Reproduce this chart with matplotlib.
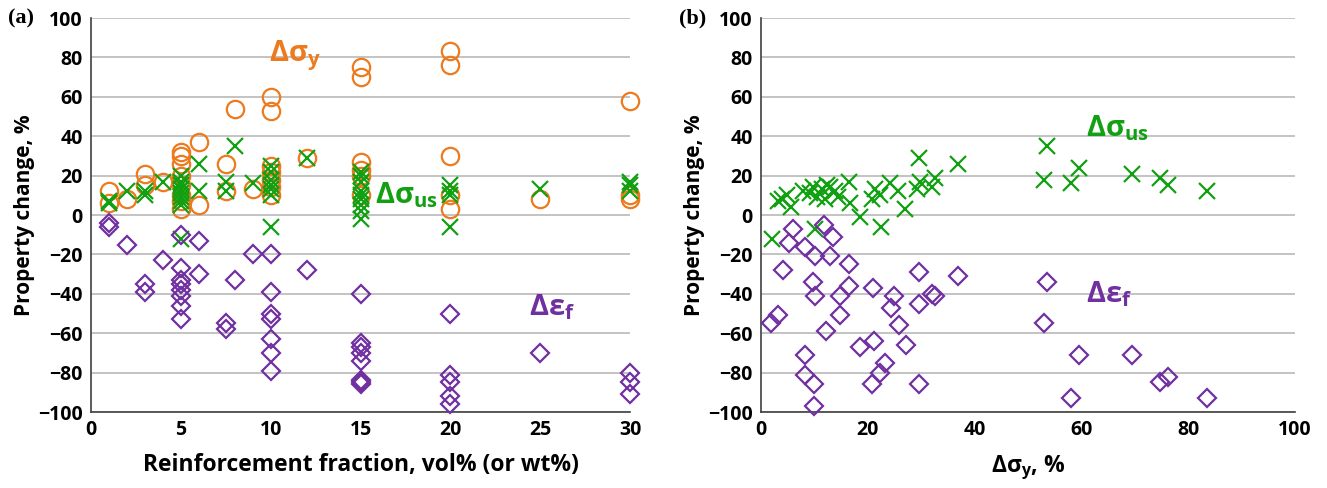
import numpy as np
import matplotlib
matplotlib.use('Agg')
import matplotlib.pyplot as plt

plt.rcParams['font.family'] = ['Open Sans', 'DejaVu Sans']
plt.rcParams['mathtext.fontset'] = 'custom'
plt.rcParams['mathtext.rm'] = 'Open Sans'
plt.rcParams['mathtext.bf'] = 'Open Sans:bold'
plt.rcParams['mathtext.it'] = 'Open Sans:italic'

ORANGE = '#EE7A1E'
GREEN = '#11A011'
PURPLE = '#7030A0'

# ---------------- panel (a) data: reinforcement fraction vs change
ys_frac = [1, 1, 2, 3, 3, 4, 5, 5, 5, 5, 5, 5, 5, 5, 6, 6, 7.5, 7.5, 8, 9,
           10, 10, 10, 10, 10, 10, 10, 12, 15, 15, 15, 15, 15, 15,
           20, 20, 20, 20, 20, 25, 30, 30, 30]
ys_val = [12, 6, 8, 21, 15, 17, 32, 30, 26, 20, 15, 10, 7, 3, 37, 5, 26, 12, 54, 13,
          60, 53, 25, 22, 18, 14, 10, 29, 75, 70, 27, 23, 20, 10,
          83, 76, 30, 10, 3, 8, 58, 10, 8]

us_frac = [1, 1, 2, 3, 3, 4, 5, 5, 5, 5, 5, 5, 5, 5, 5, 6, 6, 7.5, 7.5, 8, 9,
           10, 10, 10, 10, 10, 10, 10, 12, 15, 15, 15, 15, 15, 15, 15, 15, 15,
           20, 20, 20, 20, 25, 30, 30, 30]
us_val = [7, 6, 12, 12, 10, 17, 20, 17, 15, 13, 11, 9, 7, 5, -12, 26, 12, 17, 12, 35, 16,
          25, 22, 18, 15, 13, 10, -6, 29, 22, 20, 17, 12, 10, 8, 5, 2, -2,
          15, 12, 10, -6, 13, 17, 15, 12]

ef_frac = [1, 1, 2, 3, 3, 4, 5, 5, 5, 5, 5, 5, 5, 5, 6, 6, 7.5, 7.5, 8, 9,
           10, 10, 10, 10, 10, 10, 10, 12, 15, 15, 15, 15, 15, 15, 15, 15,
           20, 20, 20, 20, 20, 25, 30, 30, 30]
ef_val = [-4, -6, -15, -35, -39, -23, -10, -27, -33, -35, -38, -41, -46, -53, -13, -30, -55, -58, -33, -20,
          -20, -39, -50, -53, -63, -70, -79, -28, -40, -65, -67, -70, -74, -84, -85, -86,
          -50, -81, -85, -92, -96, -70, -80, -85, -91]

# ---------------- panel (b) data: change in yield strength vs change
b_us_x = [2, 3.2, 4, 4.8, 5.7, 7.9, 9.2, 9.8, 10.4, 11.4, 12, 12.3, 12.9, 13.9, 14.5,
          16.5, 16.7, 18.5, 20.7, 21.3, 22.3, 22.4, 24.2, 25.7, 27, 29.2, 29.8, 29.5,
          32, 32.6, 36.8, 10.1, 53.5, 52.9, 58, 59.6, 69.5, 74.7, 76.3, 83.5]
b_us_y = [-12, 7, 8, 10, 4, 12, 11, 14, 9, 13, 8, 15, 14, 12, 9,
          17, 6, -1, 8, 13, 10, -6, 16, 12, 3, 13, 17, 29,
          14, 19, 26, -7, 35, 18, 16, 24, 21, 19, 15, 12]

b_ef_x = [6.0, 5.3, 4.2, 1.8, 3.2, 8.2, 10.1, 9.8, 10.1, 11.8, 13.5, 12.9, 12.2, 8.2, 8.2,
          10, 10, 16.5, 16.5, 14.7, 14.7, 21, 24.9, 24.3, 25.8, 29.5, 29.5, 32, 32.6,
          36.8, 18.5, 21.2, 27.2, 23.2, 22.3, 20.7, 29.5,
          53.5, 52.9, 59.6, 58, 69.5, 74.7, 76.3, 83.5]
b_ef_y = [-7, -14, -28, -55, -51, -16, -21, -34, -41, -5, -11, -21, -59, -71, -81,
          -86, -97, -25, -36, -41, -51, -37, -41, -47, -56, -29, -45, -40, -41,
          -31, -67, -64, -66, -75, -80, -86, -86,
          -34, -55, -71, -93, -71, -85, -82, -93]

fig = plt.figure(figsize=(13.27, 4.88), dpi=100)
ax1 = fig.add_axes([0.0686, 0.1557, 0.4062, 0.8074])
ax2 = fig.add_axes([0.5735, 0.1557, 0.4024, 0.8074])

mk = dict(linestyle='none', clip_on=False, zorder=3)


def style_axis(ax):
    ax.set_ylim(-100, 100)
    ax.set_yticks(np.arange(-100, 101, 20))
    ax.grid(axis='y', color='#BEBEBE', linewidth=1.3)
    ax.set_axisbelow(True)
    for s in ['top', 'right']:
        ax.spines[s].set_visible(False)
    for s in ['left', 'bottom']:
        ax.spines[s].set_color('#404040')
        ax.spines[s].set_linewidth(1.2)
    ax.tick_params(length=0, pad=6, labelsize=14)
    for lab in ax.get_xticklabels() + ax.get_yticklabels():
        lab.set_fontweight('bold')
    ax.set_ylabel('Property change, %', fontsize=15, fontweight='bold', labelpad=2)


ax1.plot(ys_frac, ys_val, 'o', ms=12.5, mfc='none', mec=ORANGE, mew=1.6, **mk)
ax1.plot(us_frac, us_val, 'x', ms=11, color=GREEN, mew=1.6, **mk)
ax1.plot(ef_frac, ef_val, 'D', ms=9, mfc='none', mec=PURPLE, mew=1.6, **mk)
ax1.set_xlim(0, 30)
ax1.set_xticks(np.arange(0, 31, 5))
style_axis(ax1)
ax1.set_xlabel('Reinforcement fraction, vol% (or wt%)', fontsize=16.5, fontweight='bold', labelpad=9)
ax1.text(9.9, 81, r'Δσ$_\mathbf{y}$', color=ORANGE, fontsize=21, fontweight='bold', va='center')
ax1.text(15.8, 10, r'Δσ$_\mathbf{us}$', color=GREEN, fontsize=21, fontweight='bold', va='center')
ax1.text(24.4, -47, r'Δε$_\mathbf{f}$', color=PURPLE, fontsize=21, fontweight='bold', va='center')

ax2.plot(b_us_x, b_us_y, 'x', ms=11, color=GREEN, mew=1.6, **mk)
ax2.plot(b_ef_x, b_ef_y, 'D', ms=9, mfc='none', mec=PURPLE, mew=1.6, **mk)
ax2.set_xlim(0, 100)
ax2.set_xticks(np.arange(0, 101, 20))
style_axis(ax2)
ax2.set_xlabel(r'Δσ$_\mathbf{y}$, %', fontsize=16.5, fontweight='bold', labelpad=9)
ax2.text(60.8, 44, r'Δσ$_\mathbf{us}$', color=GREEN, fontsize=21, fontweight='bold', va='center')
ax2.text(60.8, -40, r'Δε$_\mathbf{f}$', color=PURPLE, fontsize=21, fontweight='bold', va='center')

fig.text(0.006, 0.962, '(a)', fontsize=16, fontweight='bold', family='Liberation Serif', va='center')
fig.text(0.512, 0.962, '(b)', fontsize=16, fontweight='bold', family='Liberation Serif', va='center')

fig.savefig('out.png', dpi=100)
